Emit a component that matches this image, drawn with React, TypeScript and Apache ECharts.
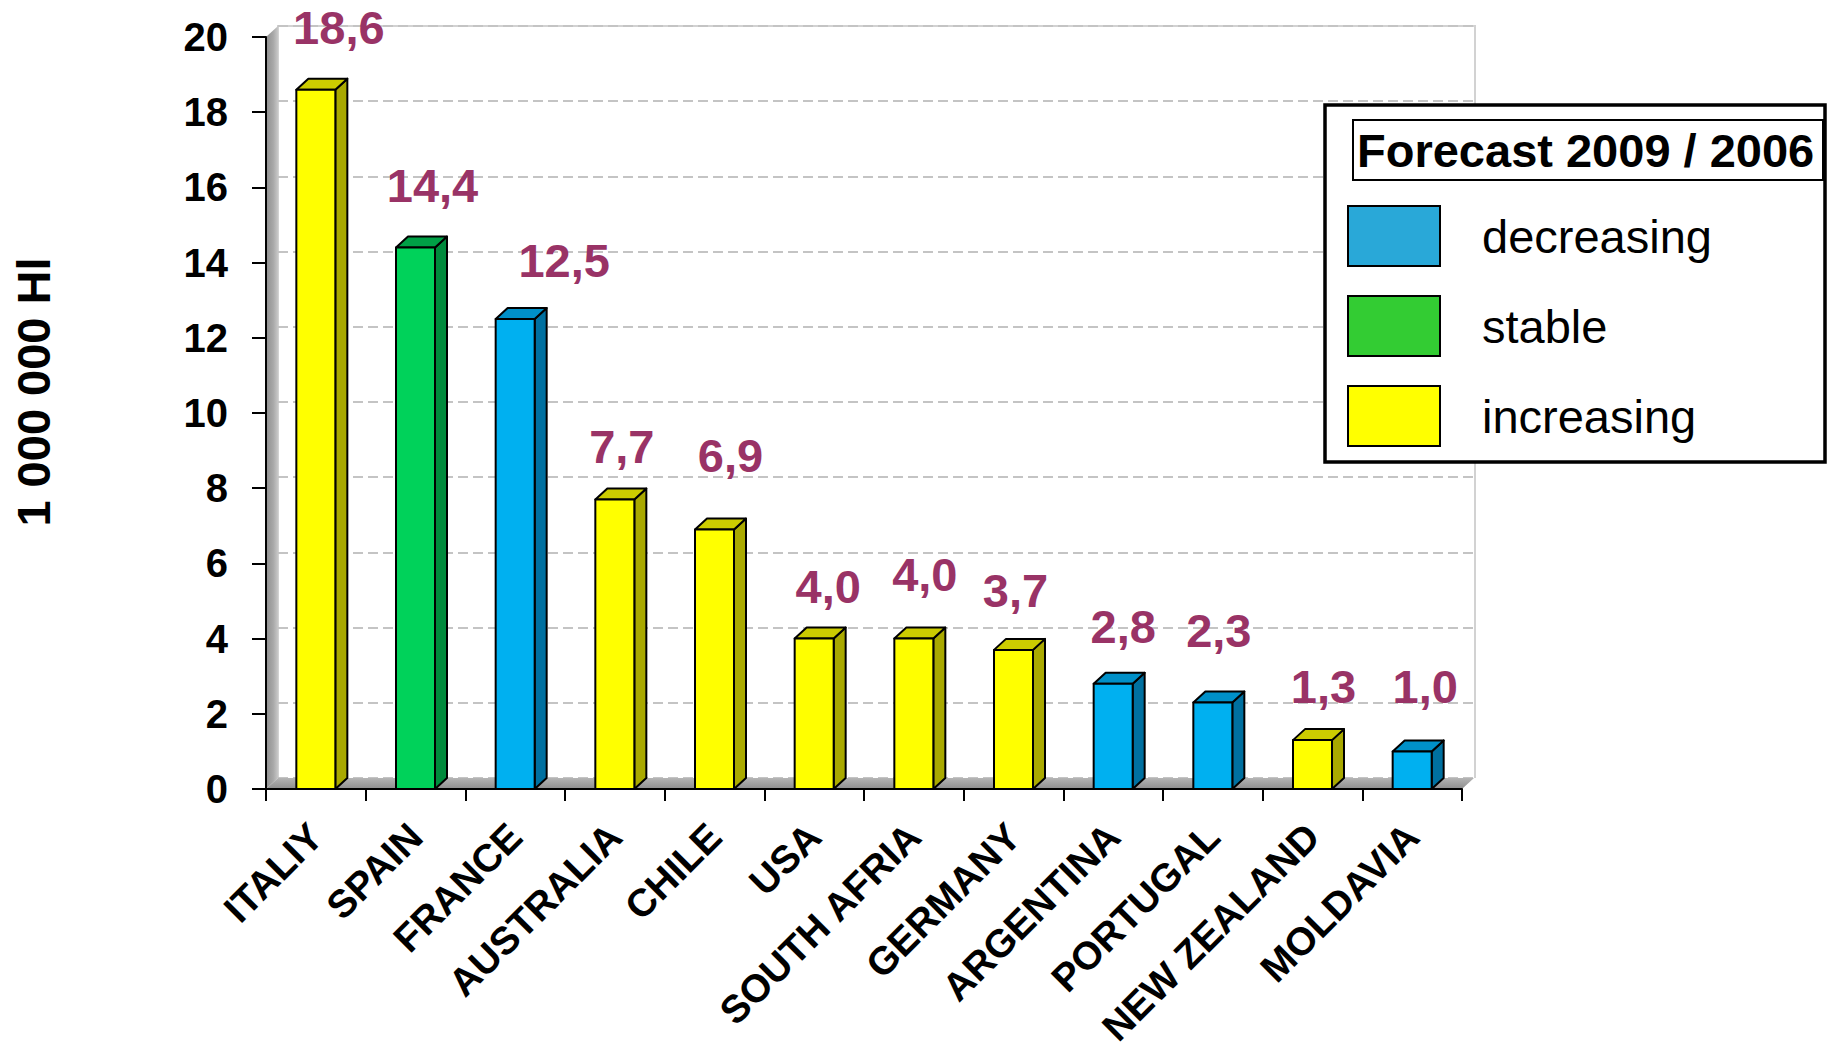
import React, { useEffect, useRef } from "react";
import * as echarts from "echarts";

// ---------- data ----------
const categories = [
  "ITALIY",
  "SPAIN",
  "FRANCE",
  "AUSTRALIA",
  "CHILE",
  "USA",
  "SOUTH AFRIA",
  "GERMANY",
  "ARGENTINA",
  "PORTUGAL",
  "NEW ZEALAND",
  "MOLDAVIA",
];
const volumes = [18.6, 14.4, 12.5, 7.7, 6.9, 4.0, 4.0, 3.7, 2.8, 2.3, 1.3, 1.0];
const trends = [
  "increasing",
  "stable",
  "decreasing",
  "increasing",
  "increasing",
  "increasing",
  "increasing",
  "increasing",
  "decreasing",
  "decreasing",
  "increasing",
  "decreasing",
];
const trendOrder = ["decreasing", "stable", "increasing"];
const Y_MIN = 0;
const Y_MAX = 20;
const Y_STEP = 2;
const yAxisTitle = "1 000 000 Hl";
const legendTitle = "Forecast 2009 / 2006";

// ---------- layout / style (not data) ----------
const W = 1831;
const H = 1051;
const PLOT = { left: 266, right: 1462, top: 37, bottom: 789 };
const DEPTH = { dx: 12, dy: 11 };
const BAR_W = 39;
// value-label placement: [shift right, rise above bar top] in px
const labelNudges = [
  [23, 62],
  [17, 62],
  [49, 59],
  [7, 53],
  [16, 74],
  [14, 52],
  [11, 64],
  [2, 59],
  [10, 57],
  [6, 72],
  [11, 54],
  [13, 65],
];
const FONT = "'Liberation Sans', Arial, Helvetica, sans-serif";

const faceColors: Record<string, { front: string; side: string; top: string }> = {
  increasing: { front: "#FFFF00", side: "#A9A900", top: "#CCCC00" },
  stable: { front: "#00D25A", side: "#008A3C", top: "#00A046" },
  decreasing: { front: "#00B0F0", side: "#0070A0", top: "#0090C8" },
};
const legendColors: Record<string, string> = {
  decreasing: "#29A8D8",
  stable: "#33CC33",
  increasing: "#FFFF00",
};

const formatValue = (v: number) => v.toFixed(1).replace(".", ",");

function renderBar(_params: any, api: any) {
  const idx = api.value(0);
  const v = api.value(1);
  const c = faceColors[trends[idx]];
  const top = api.coord([idx, v]);
  const base = api.coord([idx, 0]);
  const cx = top[0];
  const yT = top[1];
  const yB = base[1];
  const l = cx - BAR_W / 2;
  const r = cx + BAR_W / 2;
  const { dx, dy } = DEPTH;
  const stroke = { stroke: "#000", lineWidth: 2, lineJoin: "round" };
  const nudge = labelNudges[idx] || [12, 60];
  return {
    type: "group",
    children: [
      {
        type: "polygon",
        shape: { points: [[r, yT], [r + dx, yT - dy], [r + dx, yB - dy], [r, yB]] },
        style: { fill: c.side, ...stroke },
      },
      {
        type: "polygon",
        shape: { points: [[l, yT], [l + dx, yT - dy], [r + dx, yT - dy], [r, yT]] },
        style: { fill: c.top, ...stroke },
      },
      {
        type: "rect",
        shape: { x: l, y: yT, width: BAR_W, height: yB - yT },
        style: { fill: c.front, ...stroke },
      },
      {
        type: "text",
        x: cx + nudge[0],
        y: yT - nudge[1],
        style: {
          text: formatValue(v),
          fill: "#993366",
          fontSize: 47,
          fontWeight: "bold",
          fontFamily: FONT,
          align: "center",
          verticalAlign: "middle",
        },
        z2: 20,
      },
    ],
  };
}

export default function App() {
  const ref = useRef<HTMLDivElement>(null);

  useEffect(() => {
    if (!ref.current) return;
    const chart = echarts.init(ref.current, undefined, { renderer: "svg" });

    const back = {
      left: PLOT.left + DEPTH.dx,
      right: PLOT.right + DEPTH.dx,
      top: PLOT.top - DEPTH.dy,
      bottom: PLOT.bottom - DEPTH.dy,
    };

    const option: any = {
      animation: false,
      backgroundColor: "#ffffff",
      textStyle: { fontFamily: FONT },
      grid: [
        {
          left: PLOT.left,
          right: W - PLOT.right,
          top: PLOT.top,
          bottom: H - PLOT.bottom,
          containLabel: false,
          outerBoundsMode: "none",
        },
        {
          left: back.left,
          right: W - back.right,
          top: back.top,
          bottom: H - back.bottom,
          containLabel: false,
          outerBoundsMode: "none",
        },
      ],
      xAxis: [
        {
          type: "category",
          gridIndex: 0,
          data: categories,
          boundaryGap: true,
          z: 6,
          axisLine: { show: true, lineStyle: { color: "#000", width: 2 } },
          axisTick: { show: true, length: 12, interval: 0, lineStyle: { color: "#000", width: 2 } },
          axisLabel: {
            interval: 0,
            rotate: 45,
            margin: 41,
            color: "#000",
            fontSize: 39,
            fontWeight: "bold",
            fontFamily: FONT,
            padding: [10, 0, 0, 0],
          },
          splitLine: { show: false },
        },
        { type: "value", gridIndex: 1, min: 0, max: 1, show: false },
      ],
      yAxis: [
        {
          type: "value",
          gridIndex: 0,
          min: Y_MIN,
          max: Y_MAX,
          interval: Y_STEP,
          z: 6,
          axisLine: { show: true, lineStyle: { color: "#000", width: 2 } },
          axisTick: { show: true, length: 14, lineStyle: { color: "#000", width: 2 } },
          axisLabel: { color: "#000", fontSize: 40, fontWeight: "bold", fontFamily: FONT, margin: 38 },
          splitLine: { show: false },
        },
        {
          type: "value",
          gridIndex: 1,
          min: Y_MIN,
          max: Y_MAX,
          interval: Y_STEP,
          axisLine: { show: false },
          axisTick: { show: false },
          axisLabel: { show: false },
          splitLine: { show: true, lineStyle: { color: "#c4c4c4", width: 2, type: [10, 5] } },
        },
      ],
      legend: {
        orient: "vertical",
        left: 1347,
        top: 205,
        padding: 0,
        icon: "rect",
        itemWidth: 92,
        itemHeight: 60,
        itemGap: 28,
        selectedMode: false,
        z: 12,
        itemStyle: { borderColor: "#000", borderWidth: 2 },
        textStyle: { fontSize: 47, color: "#000", fontFamily: FONT, padding: [0, 0, 0, 37] },
        data: trendOrder.map((t) => ({ name: t, itemStyle: { color: legendColors[t] } })),
      },
      graphic: {
        elements: [
          {
            type: "polyline",
            z: 0,
            shape: {
              points: [
                [back.left, back.bottom],
                [back.left, back.top],
                [back.right + 1, back.top],
                [back.right + 1, back.bottom],
              ],
            },
            style: { stroke: "#d2d2d2", lineWidth: 2, fill: null },
          },
          {
            type: "polygon",
            z: 1,
            shape: {
              points: [
                [PLOT.left, PLOT.top],
                [back.left, back.top],
                [back.left, back.bottom],
                [PLOT.left, PLOT.bottom],
              ],
            },
            style: {
              fill: new echarts.graphic.LinearGradient(0, 0, 1, 0, [
                { offset: 0, color: "#8f8f8f" },
                { offset: 0.6, color: "#a8a8a8" },
                { offset: 1, color: "#c8c8c8" },
              ]),
            },
          },
          {
            type: "polygon",
            z: 1,
            shape: {
              points: [
                [PLOT.left, PLOT.bottom],
                [PLOT.right, PLOT.bottom],
                [back.right, back.bottom],
                [back.left, back.bottom],
              ],
            },
            style: {
              fill: new echarts.graphic.LinearGradient(0, 0, 0, 1, [
                { offset: 0, color: "#b4b4b4" },
                { offset: 1, color: "#8e8e8e" },
              ]),
            },
          },
          {
            type: "text",
            z: 5,
            x: 33,
            y: 392,
            rotation: Math.PI / 2,
            style: {
              text: yAxisTitle,
              fill: "#000",
              fontSize: 47,
              fontWeight: "bold",
              fontFamily: FONT,
              align: "center",
              verticalAlign: "middle",
            },
          },
          {
            type: "rect",
            z: 10,
            shape: { x: 1325, y: 105, width: 500, height: 357 },
            style: { fill: "#fff", stroke: "#000", lineWidth: 3.5 },
          },
          {
            type: "rect",
            z: 11,
            shape: { x: 1353, y: 120, width: 470, height: 60 },
            style: { fill: "#fff", stroke: "#000", lineWidth: 2 },
          },
          {
            type: "text",
            z: 11,
            x: 1357,
            y: 150,
            style: {
              text: legendTitle,
              fill: "#000",
              fontSize: 47,
              fontWeight: "bold",
              fontFamily: FONT,
              align: "left",
              verticalAlign: "middle",
            },
          },
        ],
      },
      series: [
        ...trendOrder.map((t) => ({
          type: "custom",
          name: t,
          xAxisIndex: 0,
          yAxisIndex: 0,
          z: 3,
          itemStyle: { color: legendColors[t] },
          renderItem: renderBar,
          encode: { x: 0, y: 1 },
          data: volumes
            .map((v, i) => (trends[i] === t ? [i, v] : null))
            .filter((d) => d !== null),
        })),
        { type: "line", xAxisIndex: 1, yAxisIndex: 1, data: [], silent: true },
      ],
    };

    chart.setOption(option);
    return () => chart.dispose();
  }, []);

  return (
    <div
      ref={ref}
      style={{ position: "absolute", left: 0, top: 0, width: W, height: H, background: "#fff" }}
    />
  );
}
